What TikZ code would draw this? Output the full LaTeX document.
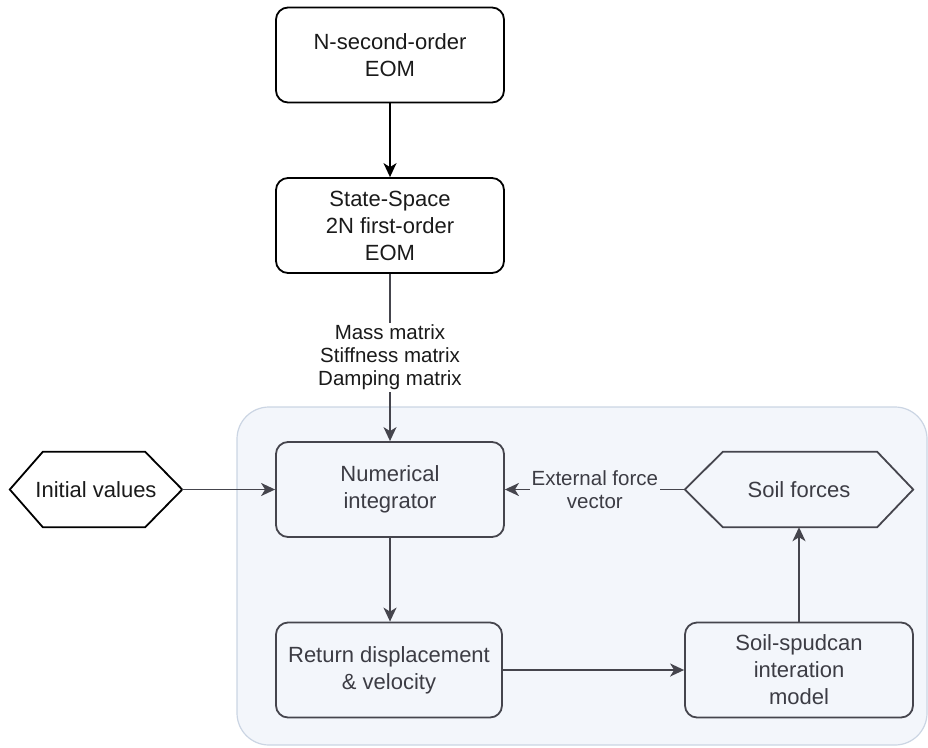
\documentclass[tikz,border=0pt]{standalone}
\usepackage{fontspec}
\setmainfont{Liberation Sans}
\usetikzlibrary{arrows.meta,calc}

\definecolor{panelfill}{HTML}{F3F6FB}
\definecolor{panelline}{HTML}{CBD5E3}
\definecolor{innerline}{HTML}{45454D}
\definecolor{innertext}{HTML}{3C3C44}
\definecolor{outerink}{HTML}{1A1A1A}

\begin{document}
\begin{tikzpicture}[x=1pt, y=-1pt,
  boxfont/.style={font=\fontsize{22}{27}\selectfont},
  tagfont/.style={font=\fontsize{20.5}{23}\selectfont},
  outerbox/.style={boxfont, draw=black, text=outerink, line width=1.8pt,
    rounded corners=12pt, minimum width=228pt, minimum height=95pt,
    align=center, inner sep=0pt},
  innerbox/.style={boxfont, draw=innerline, text=innertext, line width=1.8pt,
    rounded corners=12pt, minimum height=95pt,
    align=center, inner sep=0pt},
  hexnode/.style={boxfont, minimum height=75pt, inner sep=0pt},
  hexline/.style={line width=1.8pt},
  tip/.style={-{Stealth[length=14pt, width=13pt, inset=4pt]}},
  outerarrow/.style={tip, draw=black, line width=1.8pt},
  innerarrow/.style={tip, draw=innerline, line width=1.8pt},
  tag/.style={tagfont, align=center, inner sep=1.5pt}
]
\useasboundingbox (0,0) rectangle (928,747);

% light panel holding the integration loop
\draw[draw=panelline, fill=panelfill, line width=1.2pt, rounded corners=32pt]
  (237,407) rectangle (927,745);

% equation-of-motion boxes
\node[outerbox] (eom) at (390,55) {N-second-order\\EOM};
\node[outerbox] (ss) at (390,225.5) {State-Space\\2N first-order\\EOM};

% integration loop
\node[innerbox, minimum width=228pt] (ni) at (390,489.5) {Numerical\\integrator};
\node[innerbox, minimum width=226pt] (rd) at (389,670) {Return displacement\\\& velocity};
\node[innerbox, minimum width=228pt] (sm) at (799,670) {Soil-spudcan\\interation\\model};

% hexagonal data nodes
\node[hexnode, minimum width=172pt, text=outerink] (iv) at (96,489.5) {Initial values};
\draw[hexline, draw=black]
  (iv.west) -- ($(iv.north west)+(33,0)$) -- ($(iv.north east)+(-37,0)$)
  -- (iv.east) -- ($(iv.south east)+(-37,0)$) -- ($(iv.south west)+(33,0)$) -- cycle;

\node[hexnode, minimum width=228pt, text=innertext] (sf) at (799,489.5) {Soil forces};
\draw[hexline, draw=innerline]
  (sf.west) -- ($(sf.north west)+(38,0)$) -- ($(sf.north east)+(-36,0)$)
  -- (sf.east) -- ($(sf.south east)+(-36,0)$) -- ($(sf.south west)+(38,0)$) -- cycle;

% connectors
\draw[outerarrow] (eom) -- (ss);
\draw[innerarrow] (ss.south) --
  node[tag, fill=white, text=outerink] {Mass matrix\\Stiffness matrix\\Damping matrix}
  (ni.north);
\draw[innerarrow] (iv.east) -- (ni.west);
\draw[innerarrow] (sf.west) --
  node[tag, fill=panelfill, text=innertext] {External force\\vector}
  (ni.east);
\draw[innerarrow] (ni.south) -- (ni.south |- rd.north);
\draw[innerarrow] (rd.east) -- (sm.west);
\draw[innerarrow] (sm.north) -- (sf.south);
\end{tikzpicture}
\end{document}
